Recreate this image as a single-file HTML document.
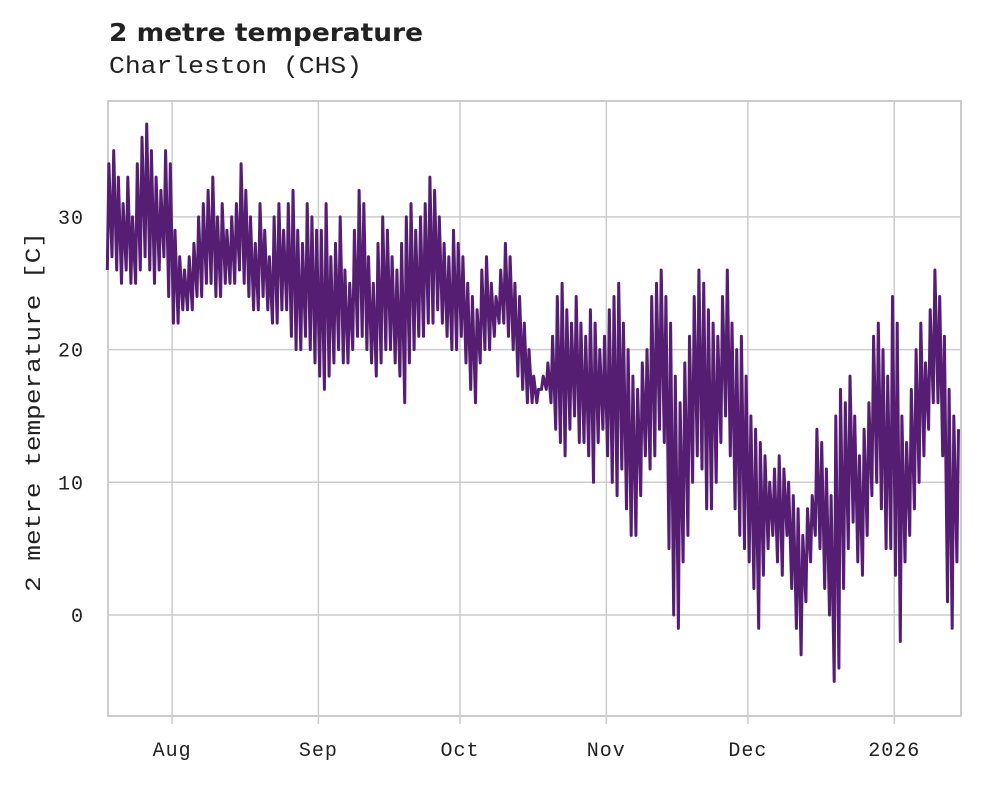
<!DOCTYPE html>
<html><head><meta charset="utf-8">
<style>
body{margin:0;background:#fff;width:981px;height:782px;overflow:hidden}
svg text{fill:#222}
.mono{font-family:"Liberation Mono","DejaVu Sans Mono",monospace}
</style></head>
<body>
<svg id="chart" width="981" height="782" xmlns="http://www.w3.org/2000/svg">
<text x="109" y="41" font-family="'DejaVu Sans','Liberation Sans',sans-serif" font-weight="bold" font-size="25" textLength="314" lengthAdjust="spacingAndGlyphs">2 metre temperature</text>
<text class="mono" x="109" y="73" font-size="24" textLength="253" lengthAdjust="spacingAndGlyphs">Charleston (CHS)</text>
<text class="mono" font-size="22" transform="translate(40,412) rotate(-90)" text-anchor="middle" textLength="360" lengthAdjust="spacingAndGlyphs">2 metre temperature [C]</text>
<g id="grid"></g>
<rect x="108" y="101" width="853" height="615" fill="none" stroke="#ccc" stroke-width="2"/>
<g id="series"></g>
<g id="ticks"></g>
</svg>
<script>
const yTicks=[0,10,20,30];
const xTickLabels=["Aug","Sep","Oct","Nov","Dec","2026"];
const xTickDays=[14,45,75,106,136,167];
const dailyMax=[34,35,33,31,33,30,34,36,37,35,33,32,35,34,
29,27,26,27,28,30,31,32,33,30,31,29,30,31,34,32,30,28,31,29,27,30,31,29,31,32,29,28,31,30,29,
29,31,27,28,30,26,25,29,32,31,27,25,28,30,29,27,26,28,30,31,29,30,31,33,32,30,28,27,29,28,
27,25,24,23,26,27,25,24,26,28,27,25,24,22,20,18,17,18,19,21,24,25,23,22,24,22,21,23,22,20,21,
23,24,25,22,20,18,17,19,20,24,25,26,24,22,18,16,19,21,24,26,25,23,22,21,24,26,22,20,21,18,
15,14,13,12,10,11,12,11,10,9,8,6,8,9,14,13,11,9,15,17,16,18,15,12,14,16,21,22,20,18,24,
22,15,13,17,20,22,19,23,26,24,21,17,15,14];
const dailyMin=[26,27,26,25,26,25,25,26,27,26,25,26,27,24,
22,22,23,23,23,24,24,25,25,24,24,25,25,25,26,25,24,23,23,24,23,22,22,23,23,21,20,20,21,20,19,
18,17,18,19,20,19,19,20,21,21,20,19,18,19,20,20,19,18,16,19,20,21,21,22,22,23,22,21,20,20,
21,19,17,16,19,20,20,21,22,22,21,20,18,17,16,16,16,17,17,16,14,13,12,14,15,13,13,12,10,13,14,
12,10,9,11,8,6,6,9,12,11,12,14,13,5,0,-1,4,6,10,12,11,8,8,10,13,15,12,8,6,5,
4,2,-1,3,5,6,4,3,6,2,-1,-3,1,4,6,5,2,0,-5,-4,2,5,7,4,3,6,9,10,8,5,5,
3,-2,4,6,8,10,12,14,16,16,12,1,-1,4];
const NS="http://www.w3.org/2000/svg";
const X0=108,PXD=4.72,Y0=615,PXC=13.27;
const xs=d=>X0+(d-0.4)*PXD;
const ys=v=>Y0-v*PXC;
const grid=document.getElementById('grid'),ticks=document.getElementById('ticks'),series=document.getElementById('series');
yTicks.forEach(v=>{
 const l=document.createElementNS(NS,'line');
 
 
 l.setAttribute('x1',108);l.setAttribute('x2',961);l.setAttribute('y1',ys(v));l.setAttribute('y2',ys(v));
 l.setAttribute('stroke','#ccc');l.setAttribute('stroke-width','1.5');grid.appendChild(l);
 const t=document.createElementNS(NS,'text');
 
 
 t.setAttribute('x',84);t.setAttribute('y',ys(v)+7);t.setAttribute('text-anchor','end');
 t.setAttribute('class','mono');t.setAttribute('font-size','20');t.setAttribute('letter-spacing','1');t.textContent=v;ticks.appendChild(t);
});
xTickDays.forEach((d,i)=>{
 const x=X0+d*PXD-2;
 const l=document.createElementNS(NS,'line');
 
 
 l.setAttribute('x1',x);l.setAttribute('x2',x);l.setAttribute('y1',101);l.setAttribute('y2',716);
 l.setAttribute('stroke','#ccc');l.setAttribute('stroke-width','1.5');grid.appendChild(l);
 const tk=document.createElementNS(NS,'line');
 
 
 tk.setAttribute('x1',x);tk.setAttribute('x2',x);tk.setAttribute('y1',716);tk.setAttribute('y2',724);
 tk.setAttribute('stroke','#ccc');tk.setAttribute('stroke-width','1.5');ticks.appendChild(tk);
 const t=document.createElementNS(NS,'text');
 
 
 t.setAttribute('x',x);t.setAttribute('y',756);t.setAttribute('text-anchor','middle');
 t.setAttribute('class','mono');t.setAttribute('font-size','20');t.setAttribute('letter-spacing','1');t.textContent=xTickLabels[i];ticks.appendChild(t);
});
let pts=[];
for(let i=0;i<dailyMax.length;i++){
 pts.push(xs(i+0.25).toFixed(1)+','+ys(dailyMin[i]).toFixed(1));
 pts.push(xs(i+0.6).toFixed(1)+','+ys(dailyMax[i]).toFixed(1));
}
const p=document.createElementNS(NS,'polyline');


p.setAttribute('points',pts.join(' '));
p.setAttribute('fill','none');p.setAttribute('stroke','#561e72');p.setAttribute('stroke-width','3');
p.setAttribute('stroke-linejoin','round');
series.appendChild(p);
</script>
</body></html>
